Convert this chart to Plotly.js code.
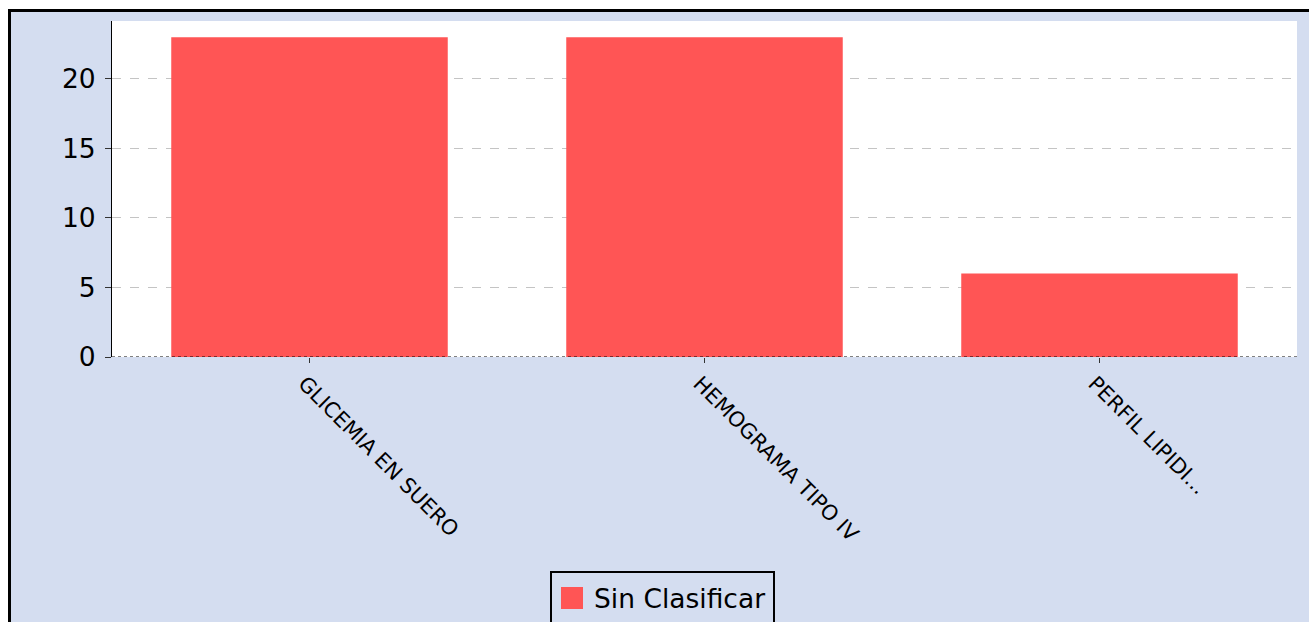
<!DOCTYPE html>
<html><head><meta charset="utf-8">
<script src="https://cdn.plot.ly/plotly-3.0.1.min.js"></script>
<style>
html,body{margin:0;padding:0;width:1309px;height:622px;overflow:hidden;background:#ffffff;}
#frame{position:absolute;left:8px;top:9px;width:1330px;height:650px;border:3px solid #000;background:#d4ddf0;}
#chart{position:absolute;left:0;top:0;width:1309px;height:622px;}
</style></head>
<body>
<div id="frame"></div>
<div id="chart"></div>
<script>
const categories = ["GLICEMIA EN SUERO", "HEMOGRAMA TIPO IV", "PERFIL LIPIDI..."];
const values = [23, 23, 6];
const seriesName = "Sin Clasificar";
const seriesColor = '#ff5555';
const yTicks = [0, 5, 10, 15, 20];

const data = [{
  type: 'bar', x: categories, y: values, name: seriesName,
  marker: {color: seriesColor}, showlegend: false
}];
// plot area in pixels: x 112..1297, y 21..357
const px = x => (x - 112) / 1185;
const py = y => (357 - y) / 336;
const layout = {
  width: 1309, height: 622,
  margin: {l: 112, r: 12, t: 21, b: 265, autoexpand: false},
  paper_bgcolor: 'rgba(0,0,0,0)', plot_bgcolor: '#ffffff',
  bargap: 0.3,
  font: {family: 'DejaVu Sans', color: '#000'},
  xaxis: {tickangle: 45, tickfont: {size: 21, color: '#000'}, ticks: 'outside', ticklen: 5, tickcolor: '#333',
          ticklabelshift: -5, showgrid: false, zeroline: false, showline: false, automargin: false},
  yaxis: {range: [0, 24.17], tickvals: yTicks, tickfont: {size: 26.5, color: '#000'}, ticks: 'outside', ticklen: 6, tickcolor: '#333',
          ticklabelstandoff: 4, showline: true, linecolor: '#000', linewidth: 1, gridcolor: '#c4c4c4', griddash: 'dash',
          zeroline: false, automargin: false},
  shapes: [
    {type: 'line', xref: 'paper', yref: 'y', x0: 0, x1: 1, y0: 0, y1: 0, line: {color: '#000', width: 1, dash: 'dot'}},
    {type: 'rect', xref: 'paper', yref: 'paper', x0: px(551), x1: px(774), y0: py(650), y1: py(572),
     fillcolor: '#d4ddf0', line: {color: '#000', width: 2}},
    {type: 'rect', xref: 'paper', yref: 'paper', x0: px(561), x1: px(583), y0: py(609), y1: py(587),
     fillcolor: seriesColor, line: {width: 0}}
  ],
  annotations: [
    {xref: 'paper', yref: 'paper', x: px(592), y: py(598), xanchor: 'left', yanchor: 'middle', showarrow: false,
     text: seriesName, font: {size: 26.5, color: '#000', family: 'DejaVu Sans'}}
  ],
  showlegend: false
};
Plotly.newPlot('chart', data, layout, {displayModeBar: false, staticPlot: true});
</script>
</body></html>
